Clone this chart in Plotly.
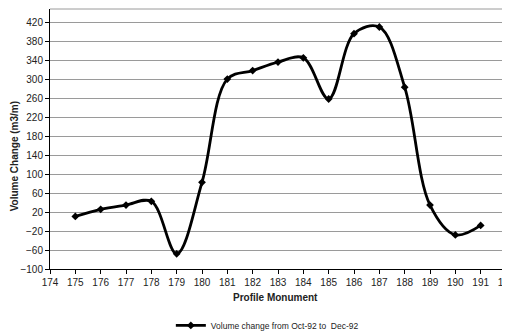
import plotly.graph_objects as go

monuments = [175, 176, 177, 178, 179, 180, 181, 182, 183, 184, 185, 186, 187, 188, 189, 190, 191]
volume_change = [11, 26, 35, 43, -68, 83, 301, 319, 337, 346, 259, 397, 411, 284, 35, -28, -8]
series_name = "Volume change from Oct-92 to  Dec-92"
y_ticks = list(range(-100, 421, 40))
x_ticks = list(range(174, 193, 1))

fig = go.Figure()
fig.add_trace(go.Scatter(
    x=monuments, y=volume_change, name=series_name,
    mode="lines+markers",
    line=dict(color="black", width=2.8, shape="spline", smoothing=1.0),
    marker=dict(symbol="diamond", size=6, color="black"),
))

font = "Liberation Sans, Arial, sans-serif"
fig.update_layout(
    width=510, height=333,
    margin=dict(l=42, r=12, t=1, b=66),
    paper_bgcolor="white", plot_bgcolor="white",
    font=dict(family=font, size=10, color="#222"),
    showlegend=True,
    legend=dict(x=0.265, xanchor="left", y=-0.217, yanchor="middle",
                orientation="h", font=dict(size=8.5, color="#222"),
                itemwidth=30, bgcolor="rgba(0,0,0,0)"),
    xaxis=dict(range=[174, 192], tickmode="array", tickvals=x_ticks,
               showgrid=False, zeroline=False, showline=True, linecolor="black",
               linewidth=1, ticks="outside", ticklen=4, tickcolor="black",
               mirror=False, tickfont=dict(size=10)),
    yaxis=dict(range=[-100, 449], tickmode="array", tickvals=y_ticks,
               showgrid=True, gridcolor="#9a9a9a", gridwidth=1.2, zeroline=False,
               showline=True, linecolor="black", linewidth=1, ticks="outside",
               ticklen=4, tickcolor="black", tickfont=dict(size=10)),
    shapes=[dict(type="line", xref="paper", yref="paper", x0=1, x1=1, y0=0, y1=1,
                 line=dict(color="#9a9a9a", width=1)),
            dict(type="line", xref="paper", yref="paper", x0=0, x1=1, y0=1, y1=1,
                 line=dict(color="#9a9a9a", width=1))],
    annotations=[
        dict(text="<b>Profile Monument</b>", xref="paper", yref="paper",
             x=0.495, y=-0.108, xanchor="center", yanchor="middle",
             showarrow=False, font=dict(size=10, color="#222")),
        dict(text="<b>Volume Change (m3/m)</b>", xref="paper", yref="paper",
             x=-0.077, y=0.433, xanchor="center", yanchor="middle", textangle=-90,
             showarrow=False, font=dict(size=10, color="#222")),
    ],
)
fig.write_html("out.html")
